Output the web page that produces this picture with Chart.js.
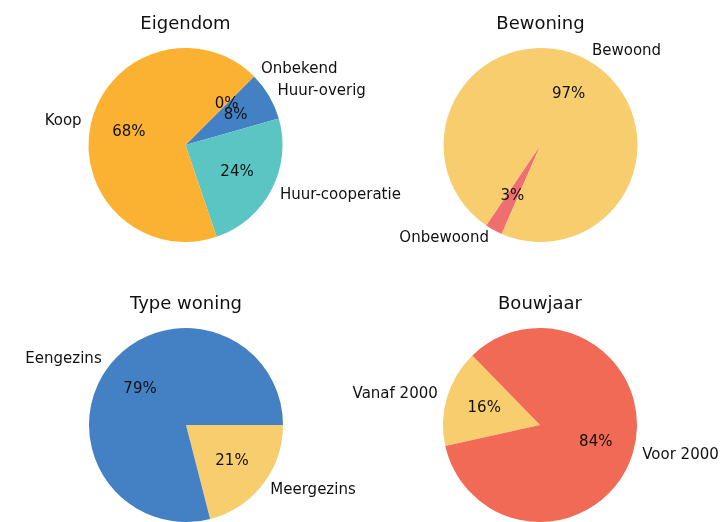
<!DOCTYPE html>
<html>
<head>
<meta charset="utf-8">
<script src="https://cdn.jsdelivr.net/npm/chart.js@4"></script>
<style>
  html, body { margin: 0; padding: 0; background: #fff; }
  #wrap { position: relative; width: 726px; height: 522px; overflow: hidden; }
  #wrap canvas { position: absolute; left: 0; top: 0; }
</style>
</head>
<body>
<div id="wrap">
  <canvas id="eigendomChart" width="726" height="522"></canvas>
  <canvas id="bewoningChart" width="726" height="522"></canvas>
  <canvas id="typeChart" width="726" height="522"></canvas>
  <canvas id="bouwjaarChart" width="726" height="522"></canvas>
</div>
<script>
// slices listed clockwise, starting from the rotation angle
const eigendomLabels = ['Onbekend', 'Huur-overig', 'Huur-cooperatie', 'Koop'];
const eigendomValues = [0, 8.1, 24.2, 67.7];

const bewoningLabels = ['Onbewoond', 'Bewoond'];
const bewoningValues = [2.9, 97.1];

const typeLabels = ['Meergezins', 'Eengezins'];
const typeValues = [21, 79];

const bouwjaarLabels = ['Vanaf 2000', 'Voor 2000'];
const bouwjaarValues = [16.2, 83.8];

const FONT = "'DejaVu Sans', sans-serif";
const TEXT = '#111';

// draws title, outside labels (1.1 r) and percentages (0.6 r) like matplotlib
const pieLabels = {
    id: 'pieLabels',
    afterDatasetsDraw(chart, args, opts) {
        const ctx = chart.ctx;
        const meta = chart.getDatasetMeta(0);
        const values = chart.data.datasets[0].data;
        const total = values.reduce((a, b) => a + b, 0);
        ctx.save();
        ctx.fillStyle = TEXT;
        meta.data.forEach(function(arc, i) {
            const p = arc.getProps(['x', 'y', 'startAngle', 'endAngle', 'outerRadius'], true);
            const mid = (p.startAngle + p.endAngle) / 2;
            const c = Math.cos(mid), s = Math.sin(mid);
            ctx.font = '15px ' + FONT;
            ctx.textBaseline = 'middle';
            ctx.textAlign = c > 0 ? 'left' : 'right';
            ctx.fillText(chart.data.labels[i], p.x + c * p.outerRadius * 1.1, p.y + s * p.outerRadius * 1.1);
            ctx.textAlign = 'center';
            const pct = Math.round(values[i] / total * 100) + '%';
            ctx.fillText(pct, p.x + c * p.outerRadius * 0.6, p.y + s * p.outerRadius * 0.6);
        });
        const first = meta.data[0];
        ctx.font = '18px ' + FONT;
        ctx.textAlign = 'center';
        ctx.textBaseline = 'alphabetic';
        ctx.fillText(opts.title, first.x, opts.titleY);
        ctx.restore();
    }
};

function createPieChart(elementId, labels, values, colors, rotation, title, box) {
    const r = 97;
    new Chart(document.getElementById(elementId), {
        type: 'pie',
        data: {
            labels: labels,
            datasets: [{
                data: values,
                backgroundColor: colors,
                borderWidth: 0
            }]
        },
        options: {
            responsive: false,
            animation: false,
            events: [],
            rotation: rotation,
            layout: {
                padding: {
                    left: box.cx - r,
                    right: 726 - box.cx - r,
                    top: box.cy - r,
                    bottom: 522 - box.cy - r
                }
            },
            plugins: {
                legend: { display: false },
                tooltip: { enabled: false },
                pieLabels: { title: title, titleY: box.titleY }
            }
        },
        plugins: [pieLabels]
    });
}

document.addEventListener('DOMContentLoaded', function() {
    // Eigendom
    createPieChart('eigendomChart', eigendomLabels, eigendomValues,
        ['#4381c4', '#4381c4', '#5bc5c4', '#fbb232'], 45, 'Eigendom',
        { cx: 185.5, cy: 145, titleY: 29 });

    // Bewoning
    createPieChart('bewoningChart', bewoningLabels, bewoningValues,
        ['#ef6e6e', '#f7cd6e'], -156.4, 'Bewoning',
        { cx: 540.5, cy: 145, titleY: 29 });

    // Type woning
    createPieChart('typeChart', typeLabels, typeValues,
        ['#f7cd6e', '#4381c4'], 90, 'Type woning',
        { cx: 186, cy: 425, titleY: 308.5 });

    // Bouwjaar
    createPieChart('bouwjaarChart', bouwjaarLabels, bouwjaarValues,
        ['#f7cd6e', '#f06a55'], -102.5, 'Bouwjaar',
        { cx: 540, cy: 425, titleY: 308.5 });
});
</script>
</body>
</html>
